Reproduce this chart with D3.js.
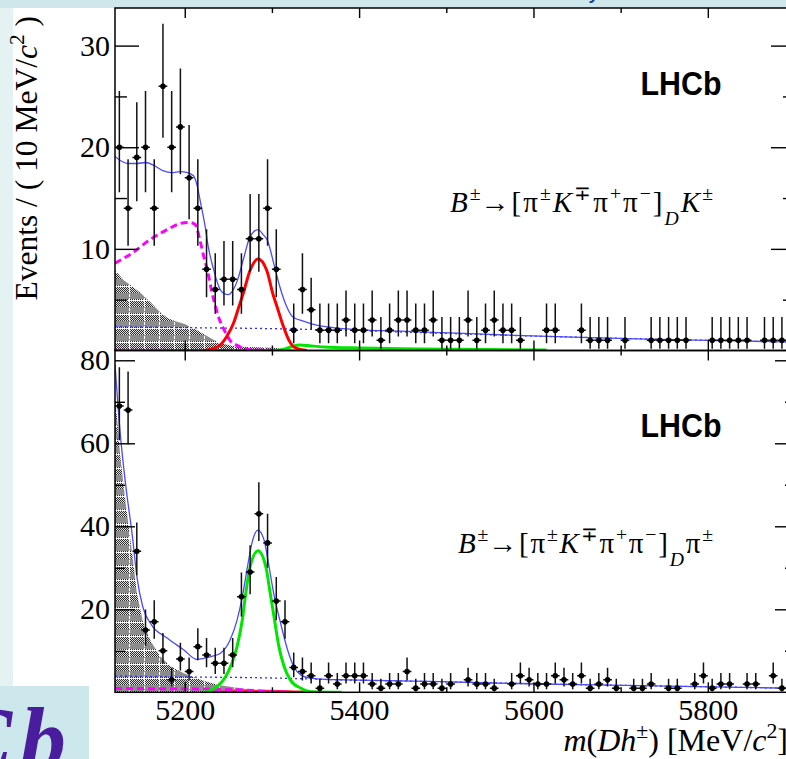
<!DOCTYPE html>
<meta charset="utf-8">
<title>B to Dh invariant mass fits</title>
<script src="https://d3js.org/d3.v7.min.js"></script>
<style>
  body { margin: 0; background: #cfe6ea; }
  svg { display: block; }
  .axis line { stroke: #000; stroke-width: 1.4px; }
  .lhcb { font: bold 33px "Liberation Sans", Arial, sans-serif; fill: #000; }
  .serif { font-family: "Liberation Serif", "Times New Roman", serif; fill: #000; }
</style>
<body>
<svg id="chart" width="786" height="759"></svg>
<script>

  // ---- data ----
  var massMin = 5120, massMax = 5900, binWidth = 10;

  // B -> [pi K pi pi]_D K  (events per 10 MeV bin, first bin 5120-5130)
  var dkCounts = [20, 14, 19, 20, 14, 26, 20, 22, 17, 14,
    8, 6, 7, 7, 6, 11, 11, 14, 8, 0,
    2, 6, 4, 2, 2, 2, 3, 2, 2, 3,
    1, 2, 3, 3, 2, 2, 3, 1, 1, 1,
    3, 1, 2, 3, 2, 2, 1, 0, 0, 2,
    2, 0, 0, 2, 1, 1, 1, 0, 1, 0,
    0, 1, 1, 1, 1, 1, 0, 0, 1, 1,
    1, 1, 1, 0, 1, 1, 1, 1];

  // B -> [pi K pi pi]_D pi
  var dpiCounts = [69, 68, 34, 15, 17, 10, 3, 8, 5, 11,
    9, 7, 7, 9, 23, 29, 43, 36, 22, 17,
    6, 5, 4, 1, 4, 2, 4, 4, 4, 2,
    1, 2, 2, 5, 1, 2, 2, 1, 2, 0,
    3, 2, 2, 1, 0, 2, 4, 3, 2, 2,
    4, 3, 2, 4, 1, 2, 3, 1, 0, 1,
    1, 2, 0, 1, 1, 0, 2, 4, 1, 2,
    2, 0, 2, 2, 0, 4, 1, 1];

  // fit components, [mass, events] pairs
  var dkTotal = [[5120, 19.1], [5128, 18.6], [5135, 18.4], [5145, 18.4], [5155, 18.5], [5165, 18.2], [5175, 17.7],
    [5185, 17.5], [5195, 17.6], [5203, 17.5], [5210, 17.2], [5214, 16.3], [5218, 14.6], [5223, 12.4], [5227, 10.2],
    [5233, 8.0], [5240, 6.1], [5245, 5.6], [5250, 5.5], [5255, 5.9], [5260, 6.8], [5267, 8.9], [5275, 11.2],
    [5284, 11.9], [5290, 11.4], [5295, 10.8], [5302, 8.6], [5309, 6.3], [5317, 4.3], [5324, 3.3], [5336, 2.9],
    [5351, 2.5], [5370, 2.25], [5408, 2.0], [5447, 1.9], [5512, 1.7], [5588, 1.46], [5665, 1.26], [5741, 1.1],
    [5818, 0.97], [5900, 0.82]];
  var dkComb = [[5120, 2.35], [5200, 2.25], [5300, 2.15], [5400, 1.95], [5500, 1.68], [5600, 1.42],
    [5700, 1.2], [5800, 1.0], [5900, 0.82]];
  var dkPartReco = [[5120, 8.6], [5140, 9.6], [5160, 10.9], [5180, 11.9], [5195, 12.5], [5205, 12.6], [5212, 12.4],
    [5217, 11.0], [5222, 9.2], [5226, 7.9], [5231, 5.8], [5236, 4.1], [5240, 3.0], [5246, 1.9], [5252, 1.0],
    [5260, 0.5], [5268, 0.2], [5280, 0.05], [5300, 0.02]];
  var dkHatched = [[5120, 7.9], [5130, 6.9], [5140, 6.3], [5150, 5.6], [5160, 4.8], [5170, 3.9], [5180, 3.2],
    [5190, 2.85], [5200, 2.6], [5210, 2.2], [5220, 1.7], [5230, 1.2], [5240, 0.75], [5255, 0.45], [5270, 0.35],
    [5300, 0.28], [5320, 0.12], [5335, 0]];
  var dkSignal = [[5222, 0], [5238, 0.37], [5248, 1.36], [5256, 2.7], [5261, 4.0], [5267, 5.6], [5275, 7.9],
    [5284, 9.0], [5294, 7.9], [5301, 5.6], [5307, 4.0], [5313, 2.4], [5319, 1.1], [5327, 0.25], [5340, 0]];
  var dkMisId = [[5305, 0], [5315, 0.15], [5323, 0.4], [5332, 0.55], [5345, 0.45], [5360, 0.35], [5400, 0.25],
    [5450, 0.18], [5500, 0.13], [5550, 0.09], [5615, 0.05]];
  var dkLowTail = [[5120, 0.1], [5200, 0.08], [5300, 0.04]];

  var dpiTotal = [[5120, 79], [5126, 62.4], [5132, 50.4], [5140, 37.5], [5145, 28], [5152, 20.5], [5162, 16.2],
    [5179, 13.2], [5199, 10.2], [5214, 7.9], [5222, 8.2], [5232, 8.7], [5241, 9.4], [5252, 12.6], [5260, 17.4],
    [5266, 23], [5272, 30.3], [5277, 35.9], [5284, 39.1], [5291, 36.7], [5296, 31.1], [5302, 23.9], [5310, 16.6],
    [5318, 10.2], [5325, 6.2], [5333, 4.2], [5344, 3.4], [5363, 3.1], [5386, 3.0], [5493, 2.55], [5608, 2.0],
    [5722, 1.6], [5837, 1.2], [5900, 0.95]];
  var dpiComb = [[5120, 3.9], [5200, 3.7], [5300, 3.45], [5386, 2.95], [5493, 2.55], [5608, 2.0],
    [5722, 1.6], [5837, 1.2], [5900, 0.95]];
  var dpiPartReco = [[5120, 0.9], [5200, 0.85], [5260, 0.6], [5300, 0.2], [5320, 0]];
  var dpiHatched = [[5120, 72], [5126, 57], [5132, 46], [5140, 33], [5145, 24], [5152, 17], [5161, 12.3],
    [5172, 8.6], [5184, 6.2], [5199, 4.6], [5218, 3.0], [5237, 1.8], [5256, 1.2], [5275, 0.7], [5294, 0.4],
    [5310, 0.2], [5320, 0]];
  var dpiSignal = [[5222, 0], [5225, 0.15], [5237, 1.35], [5247, 3.8], [5254, 7.0], [5260, 11], [5266, 17.4],
    [5270, 23.9], [5275, 30.3], [5284, 34.1], [5293, 30.3], [5298, 23.9], [5303, 17.4], [5308, 11], [5314, 6.2],
    [5321, 3.0], [5333, 1.0], [5344, 0.15], [5380, 0]];
  var dpiMisId = [[5230, 0], [5260, 0.3], [5290, 0.35], [5330, 0.2], [5370, 0]];

  // ---- layout ----
  var svg = d3.select("#chart");
  var left = 115, right = 795;
  var serifFont = "'Liberation Serif', 'Times New Roman', serif";

  var x = d3.scaleLinear().domain([massMin, massMax]).range([left, right]);

  var panels = [
    { id: "dk", top: 8, bottom: 350.5, yMax: 33.7, major: [10, 20, 30], minor: [5, 15, 25],
      majorLen: 24, minorLen: 12, counts: dkCounts, labelY: 95, decayY: 212, decayX: 450,
      last: "K", lastIt: true },
    { id: "dpi", top: 350.5, bottom: 692.3, yMax: 82.36, major: [20, 40, 60, 80], minor: [10, 30, 50, 70],
      majorLen: 20, minorLen: 10, counts: dpiCounts, labelY: 437, decayY: 553, decayX: 458,
      last: "\u03c0", lastIt: false }
  ];
  panels.forEach(function (p) {
    p.y = d3.scaleLinear().domain([0, p.yMax]).range([p.bottom, p.top]);
  });

  // ---- background pieces of the slide ----
  svg.append("rect").attr("width", 786).attr("height", 759).attr("fill", "#cfe6ea");
  svg.append("rect").attr("x", 0).attr("y", 8).attr("width", 13).attr("height", 751).attr("fill", "#e4f2f4");
  svg.append("rect").attr("x", 13).attr("y", 8).attr("width", 773).attr("height", 751).attr("fill", "#fff");

  var defs = svg.append("defs");
  var chk = defs.append("pattern").attr("id", "chk").attr("patternUnits", "userSpaceOnUse")
    .attr("width", 2).attr("height", 2);
  chk.append("rect").attr("width", 2).attr("height", 2).attr("fill", "#e0e0e0");
  chk.append("rect").attr("width", 1).attr("height", 1).attr("fill", "#2a2a2a");
  chk.append("rect").attr("x", 1).attr("y", 1).attr("width", 1).attr("height", 1).attr("fill", "#2a2a2a");

  var hatch = defs.append("pattern").attr("id", "hatch").attr("patternUnits", "userSpaceOnUse")
    .attr("x", 114).attr("y", 6).attr("width", 15).attr("height", 14);
  hatch.append("rect").attr("width", 15).attr("height", 14).attr("fill", "url(#chk)");
  hatch.append("rect").attr("y", 7).attr("width", 15).attr("height", 6).attr("fill", "#8c8c8c");
  hatch.append("line").attr("x1", 0.5).attr("x2", 0.5).attr("y1", 0).attr("y2", 14)
    .attr("stroke", "#fff").attr("stroke-width", 1).attr("stroke-dasharray", "3,1");
  hatch.append("line").attr("x1", 0).attr("x2", 15).attr("y1", 0.5).attr("y2", 0.5)
    .attr("stroke", "#fff").attr("stroke-width", 1).attr("stroke-dasharray", "3,1");

  // Poisson (Garwood) interval, Wilson-Hilferty approximation
  function errLo(n) { return n <= 0 ? 0 : n * Math.pow(1 - 1 / (9 * n) - 1 / (3 * Math.sqrt(n)), 3); }
  function errHi(n) { var m = n + 1; return m * Math.pow(1 - 1 / (9 * m) + 1 / (3 * Math.sqrt(m)), 3); }

  function rich(sel, xx, yy, size, parts, supShift, subShift) {
    var t = sel.append("text").attr("class", "serif").attr("x", xx).attr("y", yy)
      .style("font-size", size + "px");
    var shift = 0;
    parts.forEach(function (p) {
      var target = p.sup ? -(supShift || 0.4) * size : p.sub ? (subShift || 0.28) * size : 0;
      var ts = t.append("tspan").text(p.t).attr("dy", target - shift);
      if (p.sup || p.sub) ts.style("font-size", (0.68 * size) + "px");
      if (p.it) ts.style("font-style", "italic");
      if (p.dx) ts.attr("dx", p.dx);
      shift = target;
    });
    return t;
  }

  function cleanAxis(a) {
    a.select(".domain").remove();
    a.selectAll("text").style("font-family", serifFont).style("font-size", "30px").attr("fill", "#000");
  }

  panels.forEach(function (p) {
    var y = p.y;
    var clipId = "clip-" + p.id;
    defs.append("clipPath").attr("id", clipId).append("rect")
      .attr("x", left).attr("y", p.top).attr("width", right - left).attr("height", p.bottom - p.top);

    var g = svg.append("g").attr("clip-path", "url(#" + clipId + ")");

    var line = d3.line().x(function (d) { return x(d[0]); }).y(function (d) { return y(d[1]); })
      .curve(d3.curveMonotoneX);
    var area = d3.area().x(function (d) { return x(d[0]); }).y0(y(0)).y1(function (d) { return y(d[1]); });

    var isDK = p.id === "dk";
    var hatched = isDK ? dkHatched : dpiHatched;
    var comb = isDK ? dkComb : dpiComb;
    var part = isDK ? dkPartReco : dpiPartReco;
    var signal = isDK ? dkSignal : dpiSignal;
    var misId = isDK ? dkMisId : dpiMisId;
    var total = isDK ? dkTotal : dpiTotal;

    g.append("path").attr("d", area(hatched)).attr("fill", "url(#hatch)");
    g.append("path").attr("d", line(comb)).attr("fill", "none")
      .attr("stroke", "#2b2bff").attr("stroke-width", 1.3).attr("stroke-dasharray", "2,3");
    if (isDK) {
      g.append("path").attr("d", line(dkLowTail)).attr("fill", "none")
        .attr("stroke", "#c000c0").attr("stroke-width", 1.5).attr("stroke-dasharray", "2,2");
    }
    g.append("path").attr("d", line(misId)).attr("fill", "none")
      .attr("stroke", isDK ? "#00e600" : "#ff2020").attr("stroke-width", isDK ? 3 : 2);
    g.append("path").attr("d", line(part)).attr("fill", "none")
      .attr("stroke", "#ff00ff").attr("stroke-width", 3).attr("stroke-dasharray", "7,4");
    g.append("path").attr("d", line(signal)).attr("fill", "none")
      .attr("stroke", isDK ? "#ff0000" : "#00e600").attr("stroke-width", 3);
    g.append("path").attr("d", line(total)).attr("fill", "none")
      .attr("stroke", "#4a4aff").attr("stroke-width", 1.3);

    // data points
    var pts = p.counts.map(function (n, i) { return { m: massMin + binWidth * (i + 0.5), n: n }; })
      .filter(function (d) { return d.n > 0; });
    var pg = g.append("g").selectAll("g").data(pts).enter().append("g");
    pg.append("line")
      .attr("x1", function (d) { return x(d.m); }).attr("x2", function (d) { return x(d.m); })
      .attr("y1", function (d) { return y(errLo(d.n)); }).attr("y2", function (d) { return y(errHi(d.n)); })
      .attr("stroke", "#111").attr("stroke-width", 1.5);
    pg.append("line")
      .attr("x1", function (d) { return x(d.m - binWidth / 2); }).attr("x2", function (d) { return x(d.m + binWidth / 2); })
      .attr("y1", function (d) { return y(d.n); }).attr("y2", function (d) { return y(d.n); })
      .attr("stroke", "#111").attr("stroke-width", 1.5);
    pg.append("circle")
      .attr("cx", function (d) { return x(d.m); }).attr("cy", function (d) { return y(d.n); })
      .attr("r", 2.8).attr("fill", "#000");

    // axes, ROOT style ticks pointing inwards
    svg.append("g").attr("class", "axis").attr("transform", "translate(" + left + ",0)")
      .call(d3.axisLeft(y).tickValues(p.major).tickSizeInner(-p.majorLen).tickSizeOuter(0).tickPadding(5))
      .call(cleanAxis);
    svg.append("g").attr("class", "axis").attr("transform", "translate(" + left + ",0)")
      .call(d3.axisLeft(y).tickValues(p.minor).tickSizeInner(-p.minorLen).tickSizeOuter(0).tickFormat(""))
      .call(cleanAxis);
    svg.append("g").attr("class", "axis").attr("transform", "translate(" + right + ",0)")
      .call(d3.axisRight(y).tickValues(p.major).tickSizeInner(-p.majorLen).tickSizeOuter(0).tickFormat(""))
      .call(cleanAxis);
    svg.append("g").attr("class", "axis").attr("transform", "translate(" + right + ",0)")
      .call(d3.axisRight(y).tickValues(p.minor).tickSizeInner(-p.minorLen).tickSizeOuter(0).tickFormat(""))
      .call(cleanAxis);

    var xMajor = [5200, 5400, 5600, 5800], xMinor = [5300, 5500, 5700];
    var bottomAxis = d3.axisBottom(x).tickValues(xMajor).tickSizeInner(-10).tickSizeOuter(0).tickPadding(6.5);
    if (isDK) bottomAxis.tickFormat("");
    else bottomAxis.tickFormat(d3.format("d"));
    svg.append("g").attr("class", "axis").attr("transform", "translate(0," + p.bottom + ")")
      .call(bottomAxis).call(cleanAxis);
    svg.append("g").attr("class", "axis").attr("transform", "translate(0," + p.bottom + ")")
      .call(d3.axisBottom(x).tickValues(xMinor).tickSizeInner(-5).tickSizeOuter(0).tickFormat(""))
      .call(cleanAxis);
    svg.append("g").attr("class", "axis").attr("transform", "translate(0," + p.top + ")")
      .call(d3.axisTop(x).tickValues(xMajor).tickSizeInner(-10).tickSizeOuter(0).tickFormat(""))
      .call(cleanAxis);
    svg.append("g").attr("class", "axis").attr("transform", "translate(0," + p.top + ")")
      .call(d3.axisTop(x).tickValues(xMinor).tickSizeInner(-5).tickSizeOuter(0).tickFormat(""))
      .call(cleanAxis);

    // frame
    svg.append("rect").attr("x", left).attr("y", p.top).attr("width", right - left)
      .attr("height", p.bottom - p.top).attr("fill", "none").attr("stroke", "#000").attr("stroke-width", 1.5);

    // labels
    svg.append("text").attr("class", "lhcb").attr("x", 640.5).attr("y", p.labelY)
      .attr("textLength", 81).attr("lengthAdjust", "spacingAndGlyphs").text("LHCb");

    var decay = rich(svg, p.decayX, p.decayY, 29, [
      { t: "B", it: true }, { t: "\u00b1", sup: true }, { t: "\u2192", dx: -2 }, { t: "[\u03c0" },
      { t: "\u00b1", sup: true }, { t: "K", it: true }, { t: "\u2213", sup: true }, { t: "\u03c0" },
      { t: "+", sup: true }, { t: "\u03c0" }, { t: "\u2212", sup: true }, { t: "]" },
      { t: "D", it: true, sub: true }, { t: p.last, it: p.lastIt }, { t: "\u00b1", sup: true }
    ], 0.4, 0.45);
    decay.attr("textLength", 713 - p.decayX).attr("lengthAdjust", "spacing");
  });

  // axis titles
  var yTitle = rich(svg.append("g").attr("transform", "translate(37,16) rotate(-90)"), 0, 0, 31.5, [
    { t: "Events / ( 10 MeV/" }, { t: "c", it: true }, { t: "2", sup: true }, { t: " )" }
  ]);
  yTitle.attr("text-anchor", "end");

  var xTitle = rich(svg, 788, 751, 32, [
    { t: "m", it: true }, { t: "(" }, { t: "Dh", it: true }, { t: "\u00b1", sup: true },
    { t: ") [MeV/" }, { t: "c", it: true }, { t: "2", sup: true }, { t: "]" }
  ]);
  xTitle.attr("text-anchor", "end");

  // corner of the slide logo
  svg.append("clipPath").attr("id", "logo-clip").append("rect")
    .attr("x", 0).attr("y", 686).attr("width", 89).attr("height", 73);
  var logo = svg.append("g").attr("clip-path", "url(#logo-clip)");
  logo.append("rect").attr("x", 0).attr("y", 686).attr("width", 89).attr("height", 73).attr("fill", "#cde8ec");
  logo.append("text").attr("x", 20).attr("y", 770)
    .style("font", "italic bold 92px 'Liberation Serif', serif").attr("fill", "#4a1d9e").text("b");
  logo.append("text").attr("x", 12).attr("y", 770).attr("text-anchor", "end")
    .style("font", "italic bold 92px 'Liberation Serif', serif").attr("fill", "#4a1d9e").text("C");

  svg.append("text").attr("x", 590).attr("y", -1)
    .style("font", "italic bold 18px 'Liberation Sans', sans-serif").attr("fill", "#1d3f8a").text("y");

</script>
</body>
